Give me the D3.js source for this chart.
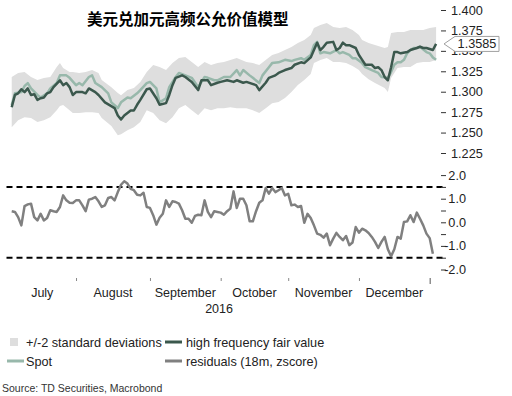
<!DOCTYPE html>
<html>
<head>
<meta charset="utf-8">
<script src="https://cdnjs.cloudflare.com/ajax/libs/d3/7.8.5/d3.min.js"></script>
<style>
    body { margin: 0; background: #ffffff; }
    text { font-family: "Liberation Sans", Arial, sans-serif; }
</style>
</head>
<body>
<div id="chart"></div>
<script>
var W = 512, H = 396;

// high frequency fair value (dark line)
var fairDates = ["2016-07-04","2016-07-05","2016-07-06","2016-07-07","2016-07-08","2016-07-11","2016-07-12","2016-07-13","2016-07-14","2016-07-15",
    "2016-07-18","2016-07-19","2016-07-20","2016-07-21","2016-07-25","2016-07-26","2016-07-27","2016-07-28","2016-07-29","2016-08-01",
    "2016-08-03","2016-08-04","2016-08-05","2016-08-09","2016-08-10","2016-08-12","2016-08-17","2016-08-18","2016-08-19","2016-08-22",
    "2016-08-23","2016-08-24","2016-08-25","2016-08-26","2016-08-29","2016-08-31","2016-09-01","2016-09-05","2016-09-06","2016-09-08",
    "2016-09-09","2016-09-12","2016-09-13","2016-09-15","2016-09-16","2016-09-20","2016-09-22","2016-09-23","2016-09-27","2016-09-28",
    "2016-09-30","2016-10-03","2016-10-05","2016-10-07","2016-10-10","2016-10-12","2016-10-13","2016-10-18","2016-10-19","2016-10-21",
    "2016-10-24","2016-10-26","2016-10-27","2016-10-31","2016-11-02","2016-11-03","2016-11-07","2016-11-08","2016-11-10","2016-11-11",
    "2016-11-14","2016-11-15","2016-11-16","2016-11-17","2016-11-21","2016-11-22","2016-11-23","2016-11-24","2016-11-25","2016-11-28",
    "2016-11-30","2016-12-01","2016-12-02","2016-12-05","2016-12-07","2016-12-08","2016-12-09","2016-12-12","2016-12-13","2016-12-14",
    "2016-12-15","2016-12-16","2016-12-19","2016-12-20","2016-12-22","2016-12-23","2016-12-27","2016-12-28","2016-12-29","2016-12-30",
    "2017-01-03","2017-01-04"];
var fairValues = [1.281,1.296,1.298,1.303,1.2995,1.304,1.296,1.297,1.290,1.292,
    1.293,1.298,1.2995,1.3056,1.314,1.308,1.3106,1.3056,1.296,1.2995,
    1.2995,1.298,1.304,1.2995,1.296,1.287,1.280,1.271,1.266,1.271,
    1.274,1.277,1.277,1.284,1.290,1.303,1.304,1.292,1.284,1.286,
    1.296,1.308,1.317,1.320,1.318,1.312,1.302,1.314,1.314,1.308,
    1.311,1.312,1.314,1.312,1.314,1.311,1.312,1.308,1.302,1.311,
    1.317,1.320,1.323,1.3265,1.329,1.333,1.336,1.335,1.342,1.351,
    1.360,1.351,1.355,1.360,1.361,1.351,1.3535,1.360,1.357,1.357,
    1.3535,1.345,1.339,1.333,1.333,1.329,1.330,1.3265,1.318,1.314,
    1.330,1.3485,1.3485,1.347,1.3485,1.351,1.3535,1.355,1.3535,1.3535,
    1.351,1.3585];

// spot (light line)
var spotDates = ["2016-07-04","2016-07-05","2016-07-07","2016-07-08","2016-07-11","2016-07-12","2016-07-14","2016-07-15","2016-07-19","2016-07-20",
    "2016-07-22","2016-07-25","2016-07-27","2016-07-28","2016-08-01","2016-08-02","2016-08-03","2016-08-05","2016-08-08","2016-08-09",
    "2016-08-11","2016-08-15","2016-08-16","2016-08-18","2016-08-19","2016-08-23","2016-08-24","2016-08-26","2016-08-29","2016-08-31",
    "2016-09-01","2016-09-05","2016-09-06","2016-09-08","2016-09-09","2016-09-13","2016-09-14","2016-09-16","2016-09-20","2016-09-22",
    "2016-09-26","2016-09-27","2016-09-29","2016-09-30","2016-10-04","2016-10-06","2016-10-10","2016-10-11","2016-10-12","2016-10-14",
    "2016-10-17","2016-10-19","2016-10-20","2016-10-24","2016-10-25","2016-10-27","2016-10-31","2016-11-02","2016-11-03","2016-11-07",
    "2016-11-08","2016-11-10","2016-11-11","2016-11-14","2016-11-15","2016-11-16","2016-11-18","2016-11-22","2016-11-23","2016-11-24",
    "2016-11-28","2016-11-29","2016-11-30","2016-12-02","2016-12-05","2016-12-07","2016-12-09","2016-12-12","2016-12-14","2016-12-15",
    "2016-12-16","2016-12-19","2016-12-20","2016-12-21","2016-12-22","2016-12-23","2016-12-26","2016-12-27","2016-12-28","2016-12-30",
    "2017-01-02","2017-01-03","2017-01-04"];
var spotValues = [1.2836,1.298,1.2995,1.307,1.3106,1.304,1.296,1.293,1.298,1.304,
    1.3106,1.320,1.320,1.317,1.308,1.3106,1.308,1.318,1.320,1.3106,
    1.3056,1.298,1.287,1.280,1.287,1.293,1.292,1.298,1.302,1.3106,
    1.312,1.304,1.287,1.292,1.3056,1.318,1.323,1.320,1.317,1.3056,
    1.318,1.317,1.314,1.314,1.318,1.318,1.3265,1.320,1.3265,1.320,
    1.317,1.3106,1.320,1.330,1.335,1.336,1.339,1.3375,1.339,1.341,
    1.339,1.345,1.357,1.361,1.347,1.3485,1.347,1.351,1.347,1.3485,
    1.345,1.341,1.341,1.335,1.330,1.3265,1.323,1.318,1.317,1.324,
    1.333,1.336,1.336,1.339,1.347,1.351,1.3535,1.3535,1.355,1.3485,
    1.347,1.342,1.339];

// +/-2 standard deviations band
var bandDates = ["2016-07-04","2016-07-06","2016-07-08","2016-07-12","2016-07-14","2016-07-18","2016-07-20","2016-07-22","2016-07-25","2016-07-26",
    "2016-07-28","2016-07-29","2016-08-02","2016-08-04","2016-08-08","2016-08-10","2016-08-11","2016-08-16","2016-08-18","2016-08-19",
    "2016-08-23","2016-08-25","2016-08-29","2016-08-31","2016-09-02","2016-09-06","2016-09-08","2016-09-12","2016-09-14","2016-09-16",
    "2016-09-20","2016-09-22","2016-09-26","2016-09-28","2016-09-30","2016-10-04","2016-10-06","2016-10-10","2016-10-13","2016-10-17",
    "2016-10-19","2016-10-21","2016-10-25","2016-10-27","2016-10-31","2016-11-02","2016-11-04","2016-11-08","2016-11-10","2016-11-11",
    "2016-11-15","2016-11-17","2016-11-21","2016-11-23","2016-11-25","2016-11-29","2016-12-01","2016-12-02","2016-12-06","2016-12-08",
    "2016-12-13","2016-12-14","2016-12-15","2016-12-19","2016-12-21","2016-12-23","2016-12-27","2016-12-29","2017-01-02","2017-01-04"];
var bandUpper = [1.3179,1.3228,1.3240,1.3179,1.3142,1.3167,1.3179,1.3302,1.3351,1.3289,
    1.3240,1.3240,1.3228,1.3240,1.3265,1.3228,1.3142,1.3056,1.2983,1.2958,
    1.3020,1.3044,1.3118,1.3240,1.3326,1.3302,1.3265,1.3351,1.3412,1.3424,
    1.3363,1.3302,1.3363,1.3326,1.3351,1.3363,1.3387,1.3412,1.3363,1.3351,
    1.3326,1.3387,1.3449,1.3473,1.3510,1.3547,1.3596,1.3632,1.3694,1.3779,
    1.3816,1.3841,1.3792,1.3779,1.3792,1.3755,1.3694,1.3632,1.3596,1.3571,
    1.3535,1.3547,1.3718,1.3730,1.3730,1.3755,1.3755,1.3755,1.3779,1.3792];
var bandLower = [1.2566,1.2652,1.2689,1.2677,1.2628,1.2652,1.2689,1.2774,1.2824,1.2836,
    1.2774,1.2738,1.2738,1.2750,1.2750,1.2738,1.2677,1.2579,1.2468,1.2480,
    1.2529,1.2566,1.2628,1.2774,1.2738,1.2652,1.2615,1.2689,1.2799,1.2836,
    1.2774,1.2713,1.2799,1.2774,1.2799,1.2799,1.2811,1.2799,1.2799,1.2774,
    1.2738,1.2799,1.2860,1.2873,1.2922,1.2995,1.3081,1.3142,1.3216,1.3351,
    1.3387,1.3412,1.3363,1.3363,1.3351,1.3314,1.3265,1.3216,1.3154,1.3106,
    1.3044,1.2995,1.3167,1.3289,1.3302,1.3302,1.3351,1.3363,1.3363,1.3387];

// residuals (18m, zscore), one value per business day from residStart
var residStart = "2016-07-04";
var residValues = [0.47,0.44,0.22,-0.13,0.69,0.76,0.79,0.22,0.08,0.36,
    0.08,0.18,0.51,0.47,0.44,0.65,1.14,0.93,0.83,0.82,
    0.93,0.93,0.72,0.47,0.96,1.00,1.07,0.89,0.65,0.72,
    1.03,1.07,0.93,1.28,1.59,1.74,1.64,1.42,1.36,1.17,
    1.14,1.25,0.65,0.61,0.30,-0.10,0.19,0.36,0.93,0.65,
    0.89,0.86,0.79,0.51,0.15,0.15,-0.02,0.27,0.32,0.30,
    0.93,0.44,0.22,0.47,0.44,0.41,0.32,0.47,0.58,1.31,
    0.61,1.00,1.00,0.72,0.04,0.04,0.47,0.83,0.93,1.45,
    1.21,1.45,1.28,1.36,1.45,1.14,1.21,0.72,0.75,0.65,
    0.69,-0.02,0.36,0.18,-0.13,-0.48,-0.53,-0.65,-0.48,-0.97,
    -0.69,-0.45,-0.62,-0.76,-0.58,-0.97,-0.86,-0.20,-0.44,-0.27,
    -0.34,-0.45,-0.62,-0.83,-1.09,-0.83,-0.62,-1.14,-1.44,-1.14,
    -0.62,-0.69,0.01,0.04,0.30,0.01,0.41,0.15,-0.13,-0.48,
    -0.67,-1.33];

var monthNames = ["July","August","September","October","November","December"];
var monthStarts = ["2016-07-01","2016-08-01","2016-09-01","2016-10-03","2016-11-01","2016-12-01","2017-01-02"];
var yearLabel = "2016";
var topTicks = [1.225,1.250,1.275,1.300,1.325,1.350,1.375,1.400];
var botTicks = [-2,-1.5,-1,-0.5,0,0.5,1,1.5,2];
var botLabels = [-2,-1,0,1,2];
var bounds = [-1.5, 1.5];
var lastFair = 1.3585;

var legendItems = [
    {name: "+/-2 standard deviations", kind: "box", color: "#dedede"},
    {name: "high frequency fair value", kind: "line", color: "#3b584d"},
    {name: "Spot", kind: "line", color: "#98b8ab"},
    {name: "residuals (18m, zscore)", kind: "line", color: "#808080"}
];

var parse = d3.timeParse("%Y-%m-%d");
var origin = parse("2016-07-01");

// x axis counts business days only (weekends skipped)
function bday(s) {
    return d3.timeDays(origin, parse(s)).filter(function(t) {
        var w = t.getDay();
        return w !== 0 && w !== 6;
    }).length;
}

var x = d3.scaleLinear().domain([0, 133]).range([8.5, 436.1]);
var yTop = d3.scaleLinear().domain([1.225, 1.4]).range([153, 10]);
var yBot = d3.scaleLinear().domain([-2, 2]).range([269.5, 175.1]);

var svg = d3.select("#chart").append("svg")
    .attr("width", W)
    .attr("height", H);

svg.append("rect").attr("width", W).attr("height", H).attr("fill", "#ffffff");

svg.append("text")
    .attr("x", 87)
    .attr("y", 25)
    .style("font-family", "'Noto Sans CJK SC', sans-serif")
    .style("font-weight", "700")
    .style("font-size", "15.5px")
    .attr("fill", "#000")
    .text("美元兑加元高频公允价值模型");

// top panel
var band = bandDates.map(function(d, i) { return {i: bday(d), hi: bandUpper[i], lo: bandLower[i]}; });
svg.append("path")
    .datum(band)
    .attr("fill", legendItems[0].color)
    .attr("d", d3.area()
        .x(function(d) { return x(d.i); })
        .y0(function(d) { return yTop(d.lo); })
        .y1(function(d) { return yTop(d.hi); }));

var spot = spotDates.map(function(d, i) { return {i: bday(d), v: spotValues[i]}; });
var fair = fairDates.map(function(d, i) { return {i: bday(d), v: fairValues[i]}; });

var lineTop = d3.line()
    .x(function(d) { return x(d.i); })
    .y(function(d) { return yTop(d.v); });

svg.append("path").datum(spot)
    .attr("fill", "none")
    .attr("stroke", legendItems[2].color)
    .attr("stroke-width", 2.5)
    .attr("stroke-linejoin", "round")
    .attr("d", lineTop);

svg.append("path").datum(fair)
    .attr("fill", "none")
    .attr("stroke", legendItems[1].color)
    .attr("stroke-width", 2.5)
    .attr("stroke-linejoin", "round")
    .attr("d", lineTop);

var axTop = svg.append("g")
    .attr("transform", "translate(441,0)")
    .call(d3.axisRight(yTop).tickValues(topTicks).tickSize(5).tickPadding(5).tickFormat(d3.format(".3f")));
axTop.select(".domain").remove();
axTop.selectAll("line").attr("stroke", "#333");
axTop.selectAll("text").attr("fill", "#222").style("font-size", "12.7px");

// last value callout
var ty = yTop(lastFair);
svg.append("path")
    .attr("d", "M444," + ty + "L455," + (ty - 7.5) + "L499," + (ty - 7.5) + "L499," + (ty + 7.5) + "L455," + (ty + 7.5) + "Z")
    .attr("fill", "#ffffff")
    .attr("stroke", "#a0a0a0")
    .attr("stroke-width", 1);
svg.append("text")
    .attr("x", 477)
    .attr("y", ty + 4.5)
    .attr("text-anchor", "middle")
    .attr("fill", "#222")
    .style("font-size", "12.7px")
    .text(d3.format(".4f")(lastFair));

// bottom panel
svg.selectAll(".bound")
    .data(bounds)
    .enter().append("line")
    .attr("class", "bound")
    .attr("x1", 6.5).attr("x2", 446)
    .attr("y1", function(d) { return yBot(d); })
    .attr("y2", function(d) { return yBot(d); })
    .attr("stroke", "#000")
    .attr("stroke-width", 2)
    .attr("stroke-dasharray", "6,4");

var resid = residValues.map(function(v, k) { return {i: bday(residStart) + k, v: v}; });
svg.append("path").datum(resid)
    .attr("fill", "none")
    .attr("stroke", legendItems[3].color)
    .attr("stroke-width", 2.5)
    .attr("stroke-linejoin", "round")
    .attr("d", d3.line()
        .x(function(d) { return x(d.i); })
        .y(function(d) { return yBot(d.v); }));

var axBot = svg.append("g")
    .attr("transform", "translate(441,0)")
    .call(d3.axisRight(yBot).tickValues(botTicks).tickSize(5)
        .tickFormat(function(d) { return botLabels.indexOf(d) >= 0 ? d.toFixed(1) : ""; }));
axBot.select(".domain").remove();
axBot.selectAll("line").attr("stroke", "#333");
axBot.selectAll("text")
    .attr("x", 25)
    .attr("text-anchor", "end")
    .attr("fill", "#222")
    .style("font-size", "12.7px");

// x axis: month ticks, labels between them
var mPos = monthStarts.map(bday);
var axX = svg.append("g")
    .attr("transform", "translate(0,278)")
    .call(d3.axisBottom(x).tickValues(mPos.slice(1)).tickSize(3).tickFormat(""));
axX.select(".domain").remove();
axX.selectAll("line").attr("stroke", "#888");
axX.selectAll(".tick").filter(function(d, i) { return i === mPos.length - 2; })
    .select("line").attr("y2", 6).attr("stroke", "#555");

svg.selectAll(".month")
    .data(monthNames)
    .enter().append("text")
    .attr("class", "month")
    .attr("x", function(d, i) { return (x(mPos[i]) + x(mPos[i + 1])) / 2; })
    .attr("y", 297)
    .attr("text-anchor", "middle")
    .attr("fill", "#222")
    .style("font-size", "12.5px")
    .text(function(d) { return d; });

svg.append("text")
    .attr("x", (x(mPos[0]) + x(mPos[mPos.length - 1])) / 2)
    .attr("y", 313)
    .attr("text-anchor", "middle")
    .attr("fill", "#222")
    .style("font-size", "12.5px")
    .text(yearLabel);

// legend
var legPos = [[10, 342], [165, 342], [7, 361], [165, 361]];
legendItems.forEach(function(item, i) {
    var g = svg.append("g").attr("transform", "translate(" + legPos[i][0] + "," + legPos[i][1] + ")");
    if (item.kind === "box") {
        g.append("rect").attr("x", 0).attr("y", -4).attr("width", 8).attr("height", 8).attr("fill", item.color);
    } else {
        g.append("line").attr("x1", 0).attr("x2", 17).attr("stroke", item.color).attr("stroke-width", 3);
    }
    g.append("text")
        .attr("x", i % 2 === 0 ? 26 - legPos[i][0] : 21)
        .attr("y", 4.5)
        .attr("fill", "#222")
        .style("font-size", "12.7px")
        .text(item.name);
});

svg.append("text")
    .attr("x", 2)
    .attr("y", 392)
    .attr("fill", "#333")
    .style("font-size", "10.5px")
    .text("Source: TD Securities, Macrobond");
</script>
</body>
</html>
